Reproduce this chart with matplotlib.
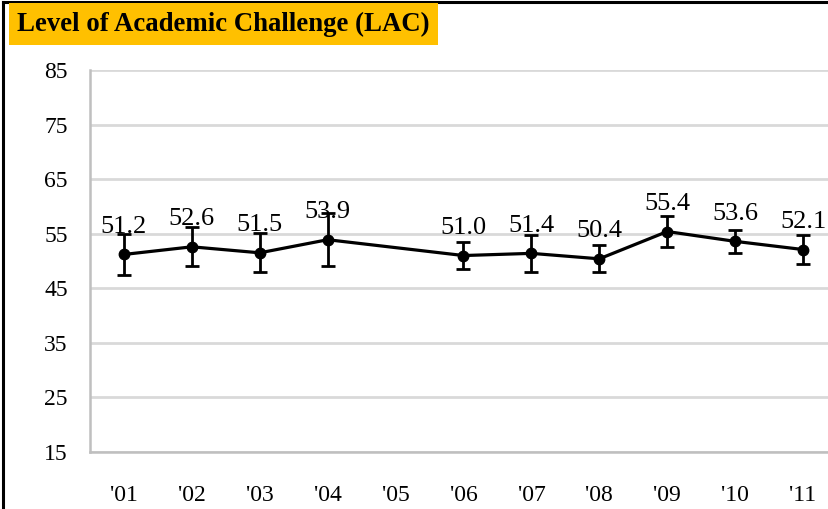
import numpy as np
import matplotlib
matplotlib.use('Agg')
import matplotlib.pyplot as plt
from matplotlib.lines import Line2D

# Data ('05 has no value)
years = ["'01", "'02", "'03", "'04", "'05", "'06", "'07", "'08", "'09", "'10", "'11"]
scores = [51.2, 52.6, 51.5, 53.9, np.nan, 51.0, 51.4, 50.4, 55.4, 53.6, 52.1]
errors = [3.7, 3.6, 3.6, 4.9, np.nan, 2.4, 3.4, 2.5, 2.9, 2.1, 2.7]
yticks = [15, 25, 35, 45, 55, 65, 75, 85]

plt.rcParams['font.family'] = ['Liberation Serif', 'DejaVu Serif']

fig = plt.figure(figsize=(8.29, 5.09), dpi=100)
ax = fig.add_axes([90 / 829, 1 - 452 / 509, 747 / 829, (452 - 70) / 509])

x = np.arange(len(years))
vals = np.array(scores)
errs = np.array(errors)
ok = ~np.isnan(vals)

ax.errorbar(x[ok], vals[ok], yerr=errs[ok], color='black', lw=2.3,
            marker='o', markersize=7.5, elinewidth=2.0, capsize=5,
            capthick=2.0, zorder=3)

for xi, v in zip(x[ok], vals[ok]):
    ax.annotate(f'{v:.1f}', (xi, v), xytext=(0, 20), textcoords='offset points',
                ha='center', va='center', fontsize=19, zorder=4)

ax.set_xlim(-0.5, len(years) - 0.5)
ax.set_ylim(15, 85)
ax.set_xticks(x)
ax.set_xticklabels(years)
ax.set_yticks(yticks)
ax.tick_params(axis='both', length=0, labelsize=17)
ax.tick_params(axis='x', pad=24)
ax.tick_params(axis='y', pad=16)
ax.grid(axis='y', color='#d9d9d9', lw=2.0)
ax.set_axisbelow(True)
for s in ['top', 'right']:
    ax.spines[s].set_visible(False)
for s in ['left', 'bottom']:
    ax.spines[s].set_color('#bfbfbf')
    ax.spines[s].set_linewidth(1.8)

# title in a gold box
fig.text(17 / 829, 1 - 24 / 509, 'Level of Academic Challenge (LAC)',
         fontsize=19.3, fontweight='bold', ha='left', va='center',
         bbox=dict(boxstyle='square,pad=0.3', facecolor='#ffc000',
                   edgecolor='none'))

# outer frame (left and top edges visible)
fig.add_artist(Line2D([3 / 829, 3 / 829], [0, 1 - 2 / 509], color='black',
                      lw=2.2, transform=fig.transFigure))
fig.add_artist(Line2D([3 / 829, 1], [1 - 2 / 509, 1 - 2 / 509], color='black',
                      lw=2.2, transform=fig.transFigure))

fig.savefig('out.png', dpi=100)
